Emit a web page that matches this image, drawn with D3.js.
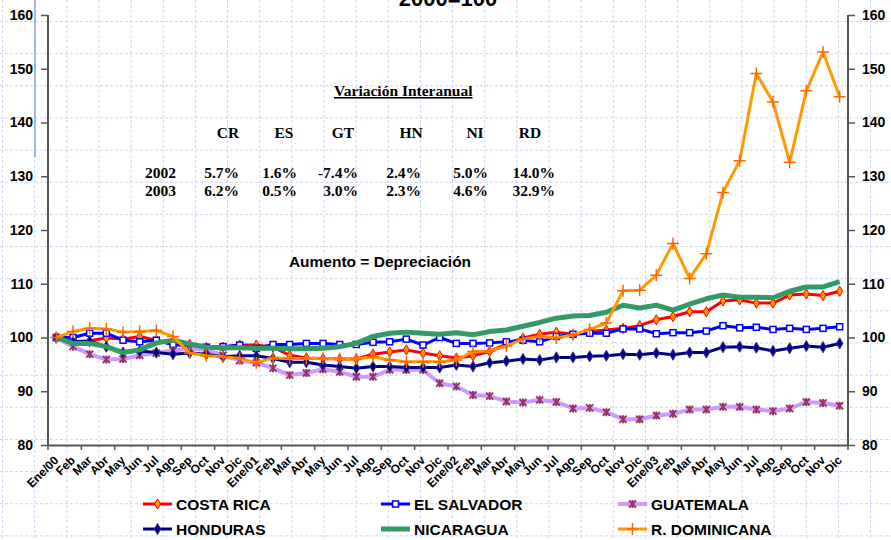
<!DOCTYPE html>
<html>
<head>
<meta charset="utf-8">
<script src="https://cdn.jsdelivr.net/npm/d3@7"></script>
<style>
  body { margin: 0; background: #fff; }
  text { font-family: Arial, "Liberation Sans", sans-serif; font-weight: bold; }
  .serif { font-family: "Times New Roman", "Liberation Serif", serif; }
</style>
</head>
<body>
<div id="chart"></div>
<script>
// months, Jan 2000 - Dec 2003
const months = ["Ene/00","Feb","Mar","Abr","May","Jun","Jul","Ago","Sep","Oct","Nov","Dic",
  "Ene/01","Feb","Mar","Abr","May","Jun","Jul","Ago","Sep","Oct","Nov","Dic",
  "Ene/02","Feb","Mar","Abr","May","Jun","Jul","Ago","Sep","Oct","Nov","Dic",
  "Ene/03","Feb","Mar","Abr","May","Jun","Jul","Ago","Sep","Oct","Nov","Dic"];

const costaRica = [100, 99.2, 99.4, 99.9, 99.7, 100.2, 99.5, 98.7, 98.7, 98.1, 98.2, 98.6,
  98.6, 98.2, 96.7, 96.2, 96.1, 96.0, 96.0, 96.9, 97.3, 97.7, 97.1, 96.6,
  96.2, 96.6, 97.4, 98.8, 99.9, 100.6, 101.0, 100.6, 101.1, 101.4, 101.7, 102.2,
  103.3, 103.9, 104.8, 104.8, 106.8, 107.0, 106.4, 106.4, 107.9, 108.1, 107.8, 108.6];
const elSalvador = [100, 100.0, 100.8, 100.8, 99.5, 99.2, 99.5, 98.7, 98.4, 98.2, 98.3, 98.6,
  98.0, 98.7, 98.7, 98.9, 98.9, 98.7, 98.7, 99.1, 99.2, 99.7, 98.6, 100.0,
  98.9, 98.9, 99.0, 99.2, 99.5, 99.2, 100.2, 100.6, 100.8, 100.8, 101.6, 101.6,
  100.7, 100.9, 100.9, 101.2, 102.2, 101.8, 101.9, 101.5, 101.7, 101.5, 101.7, 102.0];
const guatemala = [100, 98.3, 96.9, 95.9, 96.0, 96.7, 97.1, 97.6, 97.9, 97.7, 96.7, 95.7,
  95.3, 94.3, 93.0, 93.4, 94.1, 93.6, 92.7, 92.7, 94.0, 94.0, 94.0, 91.5,
  90.9, 89.3, 89.1, 88.1, 87.9, 88.4, 88.0, 86.8, 86.9, 86.1, 84.8, 84.8,
  85.5, 85.8, 86.6, 86.6, 87.1, 87.1, 86.6, 86.3, 86.8, 88.0, 87.8, 87.3];
const honduras = [100, 99.2, 99.3, 98.3, 97.2, 97.5, 97.2, 96.9, 97.1, 96.9, 96.4, 96.6,
  96.6, 96.1, 95.4, 95.4, 94.9, 94.6, 94.3, 94.6, 94.6, 94.4, 94.4, 94.4,
  94.9, 94.6, 95.3, 95.6, 96.0, 95.8, 96.3, 96.3, 96.5, 96.6, 96.9, 96.8,
  97.1, 96.8, 97.2, 97.2, 98.2, 98.3, 98.1, 97.5, 98.0, 98.4, 98.2, 98.9];
const nicaragua = [100, 98.9, 98.9, 98.3, 97.2, 97.7, 99.0, 99.5, 98.8, 98.2, 98.1, 98.1,
  98.0, 98.0, 97.9, 97.9, 98.0, 98.3, 98.9, 100.2, 100.8, 101.0, 100.8, 100.6,
  100.9, 100.5, 101.1, 101.4, 102.1, 102.8, 103.6, 104.0, 104.1, 104.7, 106.0, 105.5,
  106.0, 105.1, 106.2, 107.2, 107.9, 107.5, 107.5, 107.4, 108.6, 109.4, 109.4, 110.4];
const rDominicana = [100, 101.1, 101.7, 101.6, 101.0, 101.1, 101.3, 100.2, 97.1, 96.6, 96.4, 96.1,
  95.3, 96.2, 96.1, 96.1, 96.1, 96.1, 96.0, 96.4, 95.8, 95.5, 95.5, 95.5,
  95.8, 97.4, 97.5, 98.4, 99.7, 100.2, 99.9, 100.5, 101.5, 102.7, 108.7, 108.8,
  111.6, 117.5, 111.0, 115.6, 127.0, 132.9, 149.1, 143.8, 132.6, 145.9, 153.1, 144.8];

const yTicks = [80, 90, 100, 110, 120, 130, 140, 150, 160];

// year-on-year table
const tableCols = ["CR", "ES", "GT", "HN", "NI", "RD"];
const tableYears = ["2002", "2003"];
const var2002 = ["5.7%", "1.6%", "-7.4%", "2.4%", "5.0%", "14.0%"];
const var2003 = ["6.2%", "0.5%", "3.0%", "2.3%", "4.6%", "32.9%"];

const series = [
  {name: "COSTA RICA", values: costaRica, color: "#FF0000", width: 3, marker: "cr"},
  {name: "EL SALVADOR", values: elSalvador, color: "#0000FF", width: 3, marker: "es"},
  {name: "GUATEMALA", values: guatemala, color: "#CC99FF", width: 4, marker: "gt"},
  {name: "HONDURAS", values: honduras, color: "#000080", width: 3, marker: "hn"},
  {name: "NICARAGUA", values: nicaragua, color: "#339966", width: 5, marker: null},
  {name: "R. DOMINICANA", values: rDominicana, color: "#FF9900", width: 3, marker: "rd"}
];

const width = 891, height = 540;
const svg = d3.select("#chart").append("svg")
  .attr("width", width).attr("height", height);

// graph paper background
const grid = svg.append("g").attr("stroke", "#cdd6f6").attr("stroke-width", 1)
  .attr("stroke-dasharray", "3,2");
grid.selectAll("line.v").data(d3.range(2.5, width, 32.15)).join("line")
  .attr("x1", d => d).attr("x2", d => d).attr("y1", 0).attr("y2", height);
grid.selectAll("line.h").data(d3.range(21.5, height, 32.15)).join("line")
  .attr("x1", 0).attr("x2", width).attr("y1", d => d).attr("y2", d => d);

// stray blue line at the left
svg.append("line").attr("x1", 35).attr("x2", 35).attr("y1", 0).attr("y2", 157)
  .attr("stroke", "#8a9bff").attr("stroke-width", 1.5);

const x = d3.scaleBand().domain(d3.range(months.length)).range([48, 848]).paddingInner(0).paddingOuter(0);
const cx = i => x(i) + x.bandwidth() / 2;
const y = d3.scaleLinear().domain([80, 160]).range([445, 15]);

// title (cut off at top, as in the slide)
svg.append("text").attr("x", 448).attr("y", 6).attr("text-anchor", "middle")
  .attr("font-size", 22).text("2000=100");

// axes
const axisColor = "#555";
const gl = svg.append("g").attr("transform", "translate(48,0)")
  .call(d3.axisLeft(y).tickValues(yTicks).tickSize(7).tickPadding(8));
const gr = svg.append("g").attr("transform", "translate(848,0)")
  .call(d3.axisRight(y).tickValues(yTicks).tickSize(7).tickPadding(7));
[gl, gr].forEach(g => {
  g.select(".domain").attr("stroke", axisColor).attr("stroke-width", 2).attr("d", "M0,15V445");
  g.selectAll(".tick line").attr("stroke", axisColor).attr("stroke-width", 1.5);
  g.selectAll(".tick text").attr("font-size", 14).attr("font-weight", "bold")
    .attr("font-family", "Arial, 'Liberation Sans', sans-serif").attr("fill", "#000");
});

const gb = svg.append("g").attr("transform", "translate(0,445)")
  .call(d3.axisBottom(x).tickFormat(i => months[i]).tickSize(0).tickPadding(0));
gb.select(".domain").attr("stroke", axisColor).attr("stroke-width", 2);
gb.selectAll(".tick text")
  .attr("font-size", 12).attr("font-weight", "bold")
  .attr("font-family", "Arial, 'Liberation Sans', sans-serif").attr("fill", "#000")
  .attr("text-anchor", "end")
  .attr("transform", "translate(-3,10) rotate(-45)")
  .attr("y", 0).attr("dy", "0.7em");
// tick marks every two months
gb.selectAll("line.tk").data(d3.range(0, months.length + 1, 2)).join("line")
  .attr("class", "tk")
  .attr("x1", i => i < months.length ? x(i) : x.range()[1])
  .attr("x2", i => i < months.length ? x(i) : x.range()[1])
  .attr("y1", 0).attr("y2", 5).attr("stroke", axisColor).attr("stroke-width", 1.5);

// marker drawing
function drawMarker(sel, type) {
  if (type === "cr") {
    sel.append("path").attr("d", d3.symbol(d3.symbolDiamond, 30)())
      .attr("fill", "#FF9900").attr("stroke", "#FF0000").attr("stroke-width", 1);
  } else if (type === "es") {
    sel.append("rect").attr("x", -3).attr("y", -3).attr("width", 6).attr("height", 6)
      .attr("fill", "#fff").attr("stroke", "#0000FF").attr("stroke-width", 1.5);
  } else if (type === "gt") {
    sel.append("path").attr("d", "M-3.5,-3.5L3.5,3.5M-3.5,3.5L3.5,-3.5M0,-4V4")
      .attr("stroke", "#993366").attr("stroke-width", 2);
  } else if (type === "hn") {
    sel.append("path").attr("d", d3.symbol(d3.symbolDiamond, 36)())
      .attr("fill", "#000080").attr("stroke", "#333399").attr("stroke-width", 1);
  } else if (type === "rd") {
    sel.append("path").attr("d", "M-6,0H6M0,-6V6")
      .attr("stroke", "#FF6600").attr("stroke-width", 1.5);
  }
}

const line = d3.line().x((d, i) => cx(i)).y(d => y(d));
const plot = svg.append("g");
series.forEach(s => {
  const g = plot.append("g");
  g.append("path").datum(s.values).attr("d", line)
    .attr("fill", "none").attr("stroke", s.color).attr("stroke-width", s.width)
    .attr("stroke-linejoin", "round");
  if (s.marker) {
    g.selectAll("g.m").data(s.values).join("g").attr("class", "m")
      .attr("transform", (d, i) => `translate(${cx(i)},${y(d)})`)
      .each(function () { drawMarker(d3.select(this), s.marker); });
  }
});

// annotation table
const ann = svg.append("g").attr("class", "serif");
ann.append("text").attr("class", "serif").attr("x", 334).attr("y", 96)
  .attr("font-size", 15.5).attr("text-decoration", "underline").text("Variación Interanual");
const headX = [228, 284, 343, 411, 475, 530];
const colRight = [239, 297, 358, 421, 488, 555];
ann.selectAll("text.hd").data(tableCols).join("text").attr("class", "hd serif")
  .attr("x", (d, i) => headX[i]).attr("y", 137.5).attr("text-anchor", "middle")
  .attr("font-size", 15.5).text(d => d);
[var2002, var2003].forEach((row, r) => {
  const yy = 177.5 + r * 18.5;
  ann.append("text").attr("class", "serif").attr("x", 145).attr("y", yy)
    .attr("font-size", 15.5).text(tableYears[r]);
  ann.selectAll("text.r" + r).data(row).join("text").attr("class", "r" + r + " serif")
    .attr("x", (d, i) => colRight[i]).attr("y", yy).attr("text-anchor", "end")
    .attr("font-size", 15.5).text(d => d);
});

svg.append("text").attr("x", 380).attr("y", 266.5).attr("text-anchor", "middle")
  .attr("font-size", 15.5).text("Aumento = Depreciación");

// legend
const legendPos = [[143, 504], [381, 504], [618, 504], [143, 529], [381, 529], [618, 529]];
series.forEach((s, i) => {
  const [lx, ly] = legendPos[i];
  const g = svg.append("g").attr("transform", `translate(${lx},${ly})`);
  g.append("line").attr("x1", 0).attr("x2", 29).attr("y1", 0).attr("y2", 0)
    .attr("stroke", s.color).attr("stroke-width", s.width);
  if (s.marker) drawMarker(g.append("g").attr("transform", "translate(14.5,0)"), s.marker);
  g.append("text").attr("x", 33).attr("y", 0).attr("dy", "0.36em")
    .attr("font-size", 15.5).text(s.name);
});
</script>
</body>
</html>
